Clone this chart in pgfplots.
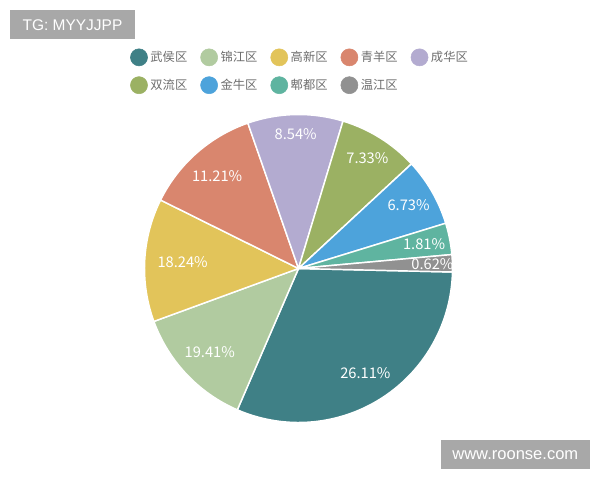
\documentclass[border=0pt]{standalone}
\usepackage{fontspec}
\setmainfont{Noto Sans CJK SC}
\newfontfamily\wmfont{Liberation Sans}
\usepackage{pgfplots}
\usepackage{pgfplotstable}
\pgfplotsset{compat=1.18}

\definecolor{c0}{HTML}{3F8086}
\definecolor{c1}{HTML}{B1CBA0}
\definecolor{c2}{HTML}{E2C45A}
\definecolor{c3}{HTML}{D9866E}
\definecolor{c4}{HTML}{B3ABD0}
\definecolor{c5}{HTML}{9BB163}
\definecolor{c6}{HTML}{4DA3DB}
\definecolor{c7}{HTML}{5FB4A0}
\definecolor{c8}{HTML}{919191}
\definecolor{legendgray}{HTML}{6E6E6E}
\definecolor{wmgray}{HTML}{A8A8A8}

% slice angles (degrees, as drawn in the picture), label text, label radius (px)
\pgfplotstableread[col sep=comma]{
name,pct,a1,a2,lr
武侯区,26.11,-1.3,-113.4,124
锦江区,19.41,-113.4,-159.9,122
高新区,18.24,-159.9,-206.4,116
青羊区,11.21,-206.4,-250.8,123
成华区,8.54,-250.8,-286.8,134
双流区,7.33,-286.8,-317.2,130
金牛区,6.73,-317.2,-342.9,127
郫都区,1.81,-342.9,-354.8,128
温江区,0.62,-354.8,-361.3,134
}\pietable

\def\R{115.5pt}% 154 px
\def\cx{298.5}
\def\cy{268.5}

\begin{document}
\begin{tikzpicture}
\begin{axis}[
  width=450pt, height=360pt, scale only axis,
  xmin=0, xmax=600, ymin=0, ymax=480, y dir=reverse,
  hide axis, clip=false,
  legend columns=5,
  legend image code/.code={\fill[#1] (6.4pt,0pt) circle (6.4pt);},
  legend style={draw=none, fill=none, inner sep=0pt, outer sep=0pt,
    at={(axis cs:130.2,48.5)}, anchor=north west,
    font=\color{legendgray}\fontsize{9.2}{11}\selectfont,
    row sep=7.6pt,
    /tikz/every even column/.append style={column sep=7.8pt}},
]
\fill[white] (axis cs:0,0) rectangle (axis cs:600,480);

\pgfplotsforeachungrouped \i in {0,...,8}{%
  \pgfplotstablegetelem{\i}{a1}\of\pietable \let\aa\pgfplotsretval
  \pgfplotstablegetelem{\i}{a2}\of\pietable \let\ab\pgfplotsretval
  \pgfplotstablegetelem{\i}{lr}\of\pietable \let\lr\pgfplotsretval
  \pgfplotstablegetelem{\i}{pct}\of\pietable \let\pc\pgfplotsretval
  \pgfmathsetmacro\am{(\aa+\ab)/2}%
  \pgfmathsetmacro\lx{\cx+\lr*cos(\am)}%
  \pgfmathsetmacro\ly{\cy-\lr*sin(\am)}%
  \edef\temp{%
    \noexpand\fill[c\i, draw=white, line width=1.1pt, line join=round]
      (axis cs:\cx,\cy) -- ++(\aa:\R) arc[start angle=\aa, end angle=\ab, radius=\R] -- cycle;
    \noexpand\node[text=white, inner sep=0pt, font=\noexpand\fontsize{11}{12}\noexpand\selectfont]
      at (axis cs:\lx,\ly) {\pc\noexpand\%};
  }%
  \temp
}

\addlegendimage{c0}\addlegendentry{武侯区}
\addlegendimage{c1}\addlegendentry{锦江区}
\addlegendimage{c2}\addlegendentry{高新区}
\addlegendimage{c3}\addlegendentry{青羊区}
\addlegendimage{c4}\addlegendentry{成华区}
\addlegendimage{c5}\addlegendentry{双流区}
\addlegendimage{c6}\addlegendentry{金牛区}
\addlegendimage{c7}\addlegendentry{郫都区}
\addlegendimage{c8}\addlegendentry{温江区}

\node[fill=wmgray, text=white, inner sep=0pt, minimum width=93.75pt, minimum height=22pt,
  font=\wmfont\fontsize{11.6}{13}\selectfont] at (axis cs:72.5,24.7) {TG: MYYJJPP};
\node[fill=wmgray, text=white, inner sep=0pt, minimum width=112pt, minimum height=22pt,
  font=\wmfont\fontsize{12.4}{14}\selectfont] at (axis cs:515.3,454.7) {www.roonse.com};
\end{axis}
\end{tikzpicture}
\end{document}
